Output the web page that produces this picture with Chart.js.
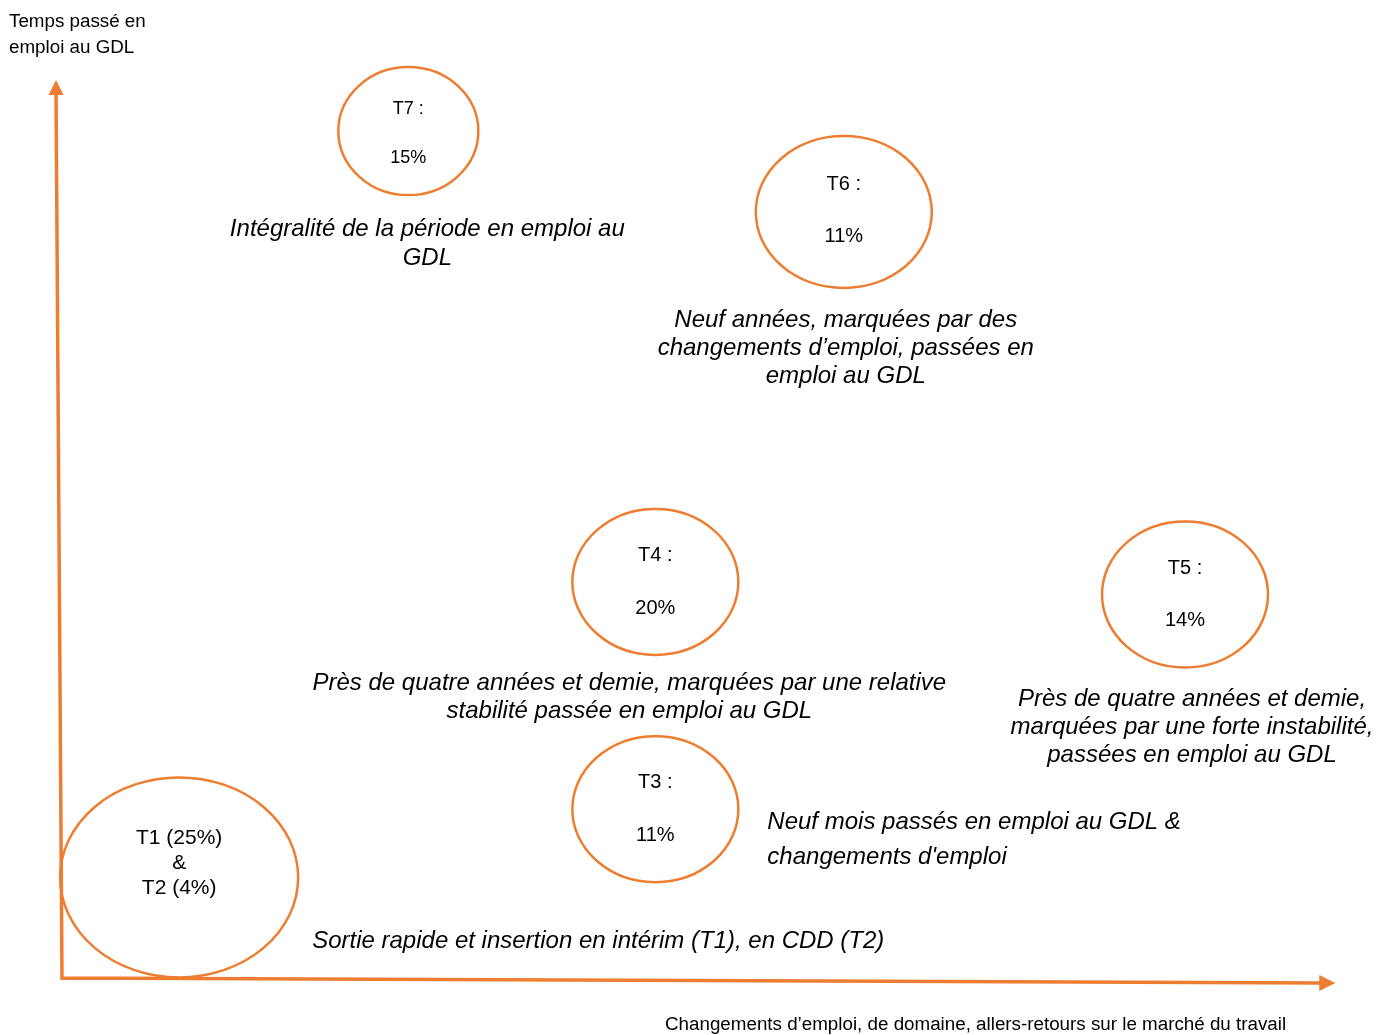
<!DOCTYPE html>
<html>
<head>
<meta charset="utf-8">
<script src="https://cdn.jsdelivr.net/npm/chart.js@4/dist/chart.umd.min.js"></script>
<style>
  html, body { margin: 0; padding: 0; background: #fff; }
  canvas { display: block; }
</style>
</head>
<body>
<canvas id="typo" width="1376" height="1035"></canvas>
<script>
// trajectory groups (T1 & T2 share one bubble)
var groups = ['T1', 'T3', 'T4', 'T5', 'T6', 'T7'];
var shares = [25, 11, 20, 14, 11, 15];
var extraShare = 4; // T2, shown with T1
// conceptual axes: changes of job (x) and time spent in work in GDL (y), 0..100
var changeLevel = [9.2, 46.6, 46.6, 88.2, 61.4, 27.2];
var timeLevel = [11.2, 18.8, 44.1, 42.7, 85.3, 94.3];
var descriptions = [
   ['Sortie rapide et insertion en intérim (T1), en CDD (T2)'],
   ['Neuf mois passés en emploi au GDL &', 'changements d\'emploi'],
   ['Près de quatre années et demie, marquées par une relative', 'stabilité passée en emploi au GDL'],
   ['Près de quatre années et demie,', 'marquées par une forte instabilité,', 'passées en emploi au GDL'],
   ['Neuf années, marquées par des', 'changements d’emploi, passées en', 'emploi au GDL'],
   ['Intégralité de la période en emploi au', 'GDL']
];
var yTitle = ['Temps passé en', 'emploi au GDL'];
var xTitle = 'Changements d’emploi, de domaine, allers-retours sur le marché du travail';

var ORANGE = '#ED7D31';
var FONT = '"Liberation Sans", Arial, sans-serif';

// drawing layout, in pixels relative to the bubble centre
var bubbleStyle = [
   { rx: 119, ry: 100, size: 21, inner: [-39, -14, 11], desc: { dx: 133, dy: 64, align: 'left', gap: 28 } },
   { rx: 83, ry: 73, size: 20, inner: [-27, 26], desc: { dx: 112, dy: 13, align: 'left', gap: 35 } },
   { rx: 83, ry: 73, size: 20, inner: [-26, 27], desc: { dx: -26, dy: 101, align: 'center', gap: 28 } },
   { rx: 83, ry: 73, size: 20, inner: [-26, 26], desc: { dx: 7, dy: 105, align: 'center', gap: 28 } },
   { rx: 88, ry: 76, size: 20, inner: [-27, 25], desc: { dx: 2, dy: 108, align: 'center', gap: 28 } },
   { rx: 70, ry: 64, size: 18, inner: [-22, 27], desc: { dx: 19, dy: 98, align: 'center', gap: 29 } }
];

function innerLines(i) {
   if (i === 0) return [groups[0] + ' (' + shares[0] + '%)', '&', 'T2 (' + extraShare + '%)'];
   return [groups[i] + ' :', shares[i] + '%'];
}

function arrowHead(ctx, x, y, angle, len, half) {
   ctx.save();
   ctx.translate(x, y);
   ctx.rotate(angle);
   ctx.beginPath();
   ctx.moveTo(0, 0);
   ctx.lineTo(-len, -half);
   ctx.lineTo(-len, half);
   ctx.closePath();
   ctx.fill();
   ctx.restore();
}

var diagramPlugin = {
   id: 'diagram',
   afterDatasetsDraw: function(chart) {
      var ctx = chart.ctx;
      var xs = chart.scales.x, ys = chart.scales.y;
      var pts = chart.getDatasetMeta(0).data;

      ctx.save();
      ctx.textBaseline = 'middle';
      pts.forEach(function(p, i) {
         var st = bubbleStyle[i];
         ctx.strokeStyle = ORANGE;
         ctx.lineWidth = 2.5;
         ctx.beginPath();
         ctx.ellipse(p.x, p.y, st.rx, st.ry, 0, 0, Math.PI * 2);
         ctx.stroke();

         ctx.fillStyle = '#000';
         ctx.textAlign = 'center';
         ctx.font = st.size + 'px ' + FONT;
         innerLines(i).forEach(function(t, k) {
            ctx.fillText(t, p.x, p.y + st.inner[k]);
         });

         ctx.font = 'italic 24px ' + FONT;
         ctx.textAlign = st.desc.align;
         descriptions[i].forEach(function(t, k) {
            ctx.fillText(t, p.x + st.desc.dx, p.y + st.desc.dy + k * st.desc.gap);
         });
      });

      // axes
      var ox = xs.getPixelForValue(0), oy = ys.getPixelForValue(0);
      var yTopX = xs.getPixelForValue(-0.47), yTopY = ys.getPixelForValue(100);
      var xEndX = xs.getPixelForValue(100), xEndY = ys.getPixelForValue(-0.56);
      ctx.strokeStyle = ORANGE;
      ctx.fillStyle = ORANGE;
      ctx.lineWidth = 3.5;
      ctx.beginPath();
      ctx.moveTo(ox, oy + 2);
      ctx.lineTo(yTopX, yTopY + 10);
      ctx.moveTo(ox - 1, oy);
      ctx.lineTo(xEndX - 10, xEndY);
      ctx.stroke();
      arrowHead(ctx, yTopX, yTopY, Math.atan2(yTopY - oy, yTopX - ox), 15, 7.5);
      arrowHead(ctx, xEndX, xEndY, Math.atan2(xEndY - oy, xEndX - ox), 16, 8);

      // axis titles
      ctx.fillStyle = '#000';
      ctx.font = '18.8px ' + FONT;
      ctx.textAlign = 'left';
      ctx.fillText(yTitle[0], 9, 22);
      ctx.fillText(yTitle[1], 9, 48);
      ctx.fillText(xTitle, 665, 1025);
      ctx.restore();
   }
};

new Chart(document.getElementById('typo'), {
   type: 'scatter',
   data: {
      labels: groups,
      datasets: [{
         data: groups.map(function(g, i) { return { x: changeLevel[i], y: timeLevel[i] }; }),
         pointRadius: 0,
         pointHoverRadius: 0
      }]
   },
   options: {
      responsive: false,
      animation: false,
      devicePixelRatio: 1,
      layout: { padding: 0 },
      events: [],
      scales: {
         x: { type: 'linear', display: false, min: -4.87, max: 103.2 },
         y: { type: 'linear', display: false, min: -6.35, max: 108.9 }
      },
      plugins: {
         legend: { display: false },
         tooltip: { enabled: false }
      }
   },
   plugins: [diagramPlugin]
});
</script>
</body>
</html>
